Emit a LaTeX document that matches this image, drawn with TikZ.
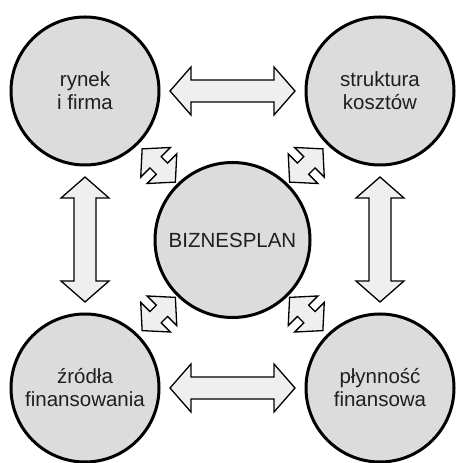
\documentclass[tikz,border=0pt]{standalone}
\usepackage{fontspec}
\setmainfont{Liberation Sans}
\usetikzlibrary{positioning,calc}

\definecolor{topicgray}{RGB}{220,220,220}
\definecolor{arrowgray}{RGB}{239,239,239}

\tikzset{
	topic/.style={circle, draw=black, line width=3pt, fill=topicgray, minimum size=148pt, inner sep=0pt, align=center, text=black!88, font=\fontsize{20.5}{23}\selectfont},
	hub/.style={topic, minimum size=155pt},
	arrowbox/.style={draw=black, line width=1.3pt, fill=arrowgray, line join=miter},
	pics/blockarrow/.style n args={4}{code={
		\draw[arrowbox] (-#1,0) -- (-#1+#2,#3) -- (-#1+#2,#4) -- (#1-#2,#4) -- (#1-#2,#3) -- (#1,0)
			-- (#1-#2,-#3) -- (#1-#2,-#4) -- (-#1+#2,-#4) -- (-#1+#2,-#3) -- cycle;
	}},
}

\begin{document}
\begin{tikzpicture}[x=1pt, y=1pt, on grid]
		\useasboundingbox (0,0) rectangle (455,463);
		
			\node [hub] (plan) at (232.5,223) {BIZNESPLAN};
			\node [topic, above left=149pt and 147.5pt of plan] (rynek) {rynek\\i firma};
			\node [topic, above right=149pt and 147.5pt of plan] (koszty) {struktura\\koszt\'ow};
			\node [topic, below left=148pt and 147.5pt of plan] (zrodla) {źródła\\finansowania};
			\node [topic, below right=148pt and 147.5pt of plan] (plynnosc) {płynność\\finansowa};
			
			\pic at ($(rynek)!0.5!(koszty)$) {blockarrow={62.5}{21}{24}{11}};
			\pic at ($(zrodla)!0.5!(plynnosc)$) {blockarrow={62.5}{21}{24}{11}};
			\pic [rotate=90] at ($(rynek)!0.5!(zrodla)$) {blockarrow={62.5}{21}{24}{11}};
			\pic [rotate=90] at ($(koszty)!0.5!(plynnosc)$) {blockarrow={62.5}{21}{24}{11}};
			
			\pic [rotate=-45] at ($(rynek)!0.5!(plan)$) {blockarrow={23.5}{19}{21}{8}};
			\pic [rotate=45] at ($(koszty)!0.5!(plan)$) {blockarrow={23.5}{19}{21}{8}};
			\pic [rotate=45] at ($(zrodla)!0.5!(plan)$) {blockarrow={23.5}{19}{21}{8}};
			\pic [rotate=-45] at ($(plynnosc)!0.5!(plan)$) {blockarrow={23.5}{19}{21}{8}};
	\end{tikzpicture}
\end{document}
